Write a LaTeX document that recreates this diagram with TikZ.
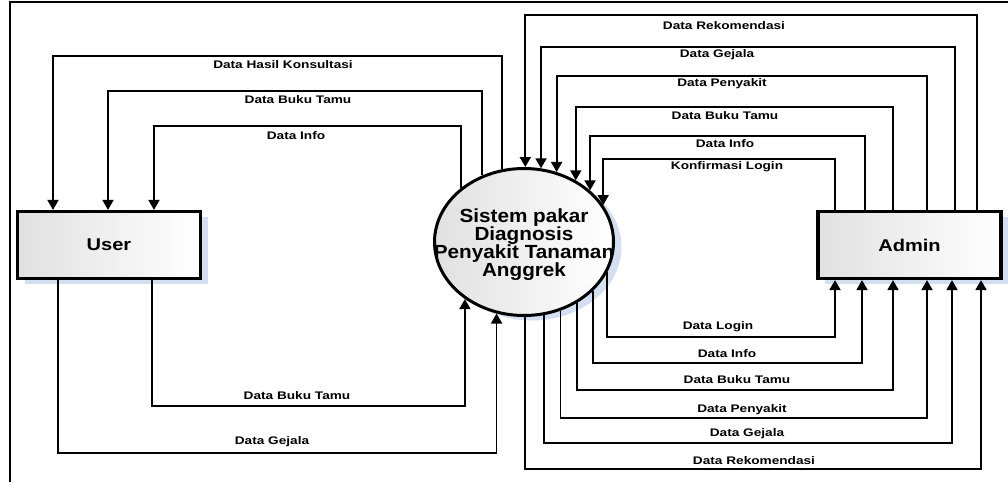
\documentclass[tikz,border=0pt]{standalone}
\usepackage{fontspec}
\setmainfont{Liberation Sans}
\newfontfamily\lblfont[FakeStretch=1.24]{Liberation Sans}
\newfontfamily\boxfont[FakeStretch=1.18]{Liberation Sans}
\newfontfamily\sysfont[FakeStretch=1.09]{Liberation Sans}
\usetikzlibrary{arrows.meta,shapes.geometric,shadows}
\definecolor{shadowblue}{HTML}{D3DFF0}
\begin{document}
\begin{tikzpicture}[x=1pt,y=-1pt,
  flow/.style={draw=black, line width=1.8pt, -{Triangle[width=11pt,length=10pt]}},
  lbl/.style={font=\lblfont\bfseries\fontsize{11}{13}\selectfont, inner sep=0pt},
  entity/.style={draw=black, line width=3.2pt, minimum width=183pt, minimum height=67pt,
    left color=black!12, right color=white,
    drop shadow={shadow xshift=7pt, shadow yshift=-5pt, fill=shadowblue, opacity=1},
    font=\boxfont\bfseries\fontsize{17}{20}\selectfont},
  process/.style={ellipse, draw=black, line width=3pt, minimum width=179pt, minimum height=147pt,
    inner sep=0pt, left color=black!12, right color=white,
    drop shadow={shadow xshift=8pt, shadow yshift=-5pt, fill=shadowblue, opacity=1}},
  proctext/.style={align=center, inner sep=0pt, font=\sysfont\bfseries\fontsize{19}{18}\selectfont},
  frame/.style={line width=2pt}]
\useasboundingbox (0,0) rectangle (1008,482);
\draw[frame] (1008,2) -- (10,2) -- (10,482);

\node[entity] (user) at (109,245) {User};
\node[entity] (admin) at (909.5,245) {Admin};
\node[process] (sys) at (524,242) {};
\node[proctext] (systxt) at (524,245) {Sistem pakar\\Diagnosis\\Penyakit Tanaman\\Anggrek};

% sys -> user (top)
\draw[flow] (sys.107) -- (sys.107 |- 0,56) -| (user.north -| 53,0);
\draw[flow] (sys.122) -- (sys.122 |- 0,91) -| (user.north -| 108,0);
\draw[flow] (sys.139) -- (sys.139 |- 0,126) -| (user.north -| 154,0);
\node[lbl] (l1) at (283,65) {Data Hasil Konsultasi};
\node[lbl] (l2) at (298,100) {Data Buku Tamu};
\node[lbl] (l3) at (296,136) {Data Info};

% user -> sys (bottom)
\draw[flow] (user.south -| 152,0) |- (sys.224 |- 0,406) -- (sys.224);
\draw[flow] (user.south -| 58,0) |- (sys.249 |- 0,453) -- (sys.249);
\node[lbl] (l4) at (297,396) {Data Buku Tamu};
\node[lbl] (l5) at (272,442) {Data Gejala};

% admin -> sys (top)
\draw[flow] (admin.north -| 977,0) |- (sys.89 |- 0,15) -- (sys.89);
\draw[flow] (admin.north -| 955,0) |- (sys.77 |- 0,47) -- (sys.77);
\draw[flow] (admin.north -| 927,0) |- (sys.65 |- 0,76) -- (sys.65);
\draw[flow] (admin.north -| 893,0) |- (sys.50 |- 0,107) -- (sys.50);
\draw[flow] (admin.north -| 865,0) |- (sys.38 |- 0,136) -- (sys.38);
\draw[flow] (admin.north -| 835,0) |- (sys.25 |- 0,159) -- (sys.25);
\node[lbl] (r1) at (724,26) {Data Rekomendasi};
\node[lbl] (r2) at (717,55) {Data Gejala};
\node[lbl] (r3) at (722,84) {Data Penyakit};
\node[lbl] (r4) at (725,116) {Data Buku Tamu};
\node[lbl] (r5) at (725,144) {Data Info};
\node[lbl] (r6) at (727,167) {Konfirmasi Login};

% sys -> admin (bottom)
\draw[flow] (sys.340) -- (sys.340 |- 0,337) -| (admin.south -| 835,0);
\draw[flow] (sys.325) -- (sys.325 |- 0,363) -| (admin.south -| 862,0);
\draw[flow] (sys.311) -- (sys.311 |- 0,390) -| (admin.south -| 893,0);
\draw[flow] (sys.298) -- (sys.298 |- 0,418) -| (admin.south -| 927,0);
\draw[flow] (sys.285) -- (sys.285 |- 0,443) -| (admin.south -| 952,0);
\draw[flow] (sys.271) -- (sys.271 |- 0,469) -| (admin.south -| 981,0);
\node[lbl] (b1) at (718,327) {Data Login};
\node[lbl] (b2) at (727,354) {Data Info};
\node[lbl] (b3) at (737,380) {Data Buku Tamu};
\node[lbl] (b4) at (742,410) {Data Penyakit};
\node[lbl] (b5) at (747,434) {Data Gejala};
\node[lbl] (b6) at (754,461) {Data Rekomendasi};
\end{tikzpicture}
\end{document}
